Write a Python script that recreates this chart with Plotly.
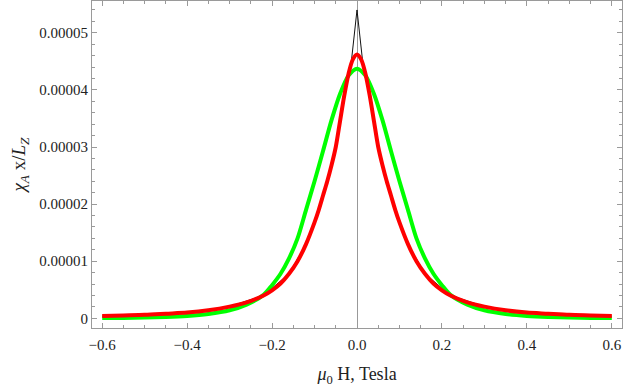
import plotly.graph_objects as go

# Field values (Tesla)
x_vals = [-0.60, -0.55, -0.50, -0.45, -0.40, -0.35, -0.30, -0.26, -0.22, -0.20,
          -0.18, -0.16, -0.14, -0.12, -0.10, -0.09, -0.08, -0.07, -0.06, -0.05,
          -0.04, -0.03, -0.02, -0.01, 0.00, 0.01, 0.02, 0.03, 0.04, 0.05,
          0.06, 0.07, 0.08, 0.09, 0.10, 0.12, 0.14, 0.16, 0.18, 0.20,
          0.22, 0.26, 0.30, 0.35, 0.40, 0.45, 0.50, 0.55, 0.60]

# red curve (units of 1e-5)
red_vals = [0.04, 0.05, 0.06, 0.08, 0.10, 0.14, 0.205, 0.28, 0.40, 0.49,
            0.61, 0.78, 1.00, 1.30, 1.68, 1.90, 2.15, 2.40, 2.68, 3.00,
            3.45, 3.90, 4.28, 4.53, 4.62, 4.53, 4.28, 3.90, 3.45, 3.00,
            2.68, 2.40, 2.15, 1.90, 1.68, 1.30, 1.00, 0.78, 0.61, 0.49,
            0.40, 0.28, 0.205, 0.14, 0.10, 0.08, 0.06, 0.05, 0.04]

# green curve (units of 1e-5)
green_x = [-0.60, -0.55, -0.50, -0.45, -0.40, -0.35, -0.30, -0.26, -0.22, -0.20,
           -0.18, -0.16, -0.14, -0.12, -0.10, -0.08, -0.06, -0.04, -0.02, 0.00,
           0.02, 0.04, 0.06, 0.08, 0.10, 0.12, 0.14, 0.16, 0.18, 0.20,
           0.22, 0.26, 0.30, 0.35, 0.40, 0.45, 0.50, 0.55, 0.60]
green_vals = [0.004, 0.007, 0.012, 0.022, 0.04, 0.075, 0.14, 0.24, 0.41, 0.58,
              0.78, 1.05, 1.40, 1.90, 2.40, 2.93, 3.47, 3.93, 4.25, 4.37,
              4.25, 3.93, 3.47, 2.93, 2.40, 1.90, 1.40, 1.05, 0.78, 0.58,
              0.41, 0.24, 0.14, 0.075, 0.04, 0.022, 0.012, 0.007, 0.004]

# black (thin) curve, cusp at zero
black_x = [-0.60, -0.50, -0.40, -0.30, -0.22, -0.16, -0.12, -0.10, -0.08, -0.06,
           -0.04, -0.02, -0.014, 0.00, 0.014, 0.02, 0.04, 0.06, 0.08, 0.10,
           0.12, 0.16, 0.22, 0.30, 0.40, 0.50, 0.60]
black_vals = [0.04, 0.06, 0.10, 0.205, 0.40, 0.78, 1.30, 1.68, 2.15, 2.68,
              3.45, 4.28, 4.45, 5.40, 4.45, 4.28, 3.45, 2.68, 2.15, 1.68,
              1.30, 0.78, 0.40, 0.205, 0.10, 0.06, 0.04]

SCALE = 1e-5

x_tick_vals = [-0.6, -0.4, -0.2, 0.0, 0.2, 0.4, 0.6]
x_tick_text = ["\u22120.6", "\u22120.4", "\u22120.2", "0.0", "0.2", "0.4", "0.6"]
y_tick_vals = [0, 1e-5, 2e-5, 3e-5, 4e-5, 5e-5]
y_tick_text = ["0", "0.00001", "0.00002", "0.00003", "0.00004", "0.00005"]

fig = go.Figure()
fig.add_trace(go.Scatter(x=black_x, y=[v * SCALE for v in black_vals], mode="lines",
                         line=dict(color="#111111", width=1), showlegend=False))
fig.add_trace(go.Scatter(x=green_x, y=[v * SCALE for v in green_vals], mode="lines",
                         line=dict(color="#00FF00", width=4, shape="spline", smoothing=0.8),
                         showlegend=False))
fig.add_trace(go.Scatter(x=x_vals, y=[v * SCALE for v in red_vals], mode="lines",
                         line=dict(color="#FF0000", width=4, shape="spline", smoothing=0.8),
                         showlegend=False))

frame = "#9a9a9a"
font = dict(family="Liberation Serif", size=15, color="#222222")

fig.update_layout(
    width=623, height=387,
    margin=dict(l=92, r=1, t=1, b=59),
    paper_bgcolor="white", plot_bgcolor="white",
    font=font,
    xaxis=dict(range=[-0.624, 0.624], showgrid=False, automargin=False,
               zeroline=True, zerolinecolor="#999999", zerolinewidth=1,
               showline=True, linecolor=frame, linewidth=1, mirror="ticks",
               ticks="inside", ticklen=5, tickcolor=frame, ticklabelstandoff=3,
               tickvals=x_tick_vals, ticktext=x_tick_text,
               minor=dict(dtick=0.05, tick0=0, ticks="inside", ticklen=3, tickcolor=frame),
               title=dict(text="<i>\u03bc</i><sub>0</sub> H, Tesla", font=dict(size=18),
                          standoff=15)),
    yaxis=dict(range=[-0.17e-5, 5.557e-5], showgrid=False, zeroline=False, automargin=False,
               showline=True, linecolor=frame, linewidth=1, mirror="ticks",
               ticks="inside", ticklen=5, tickcolor=frame,
               tickvals=y_tick_vals, ticktext=y_tick_text,
               minor=dict(dtick=0.2e-5, tick0=0, ticks="inside", ticklen=3, tickcolor=frame),
               title=dict(text="<i>\u03c7</i><sub><i>A</i></sub> x/<i>L</i><sub><i>Z</i></sub>",
                          font=dict(size=19), standoff=8)),
)

fig.write_html("out.html", config={"displayModeBar": False},
               post_script="document.body.style.margin='0';")
